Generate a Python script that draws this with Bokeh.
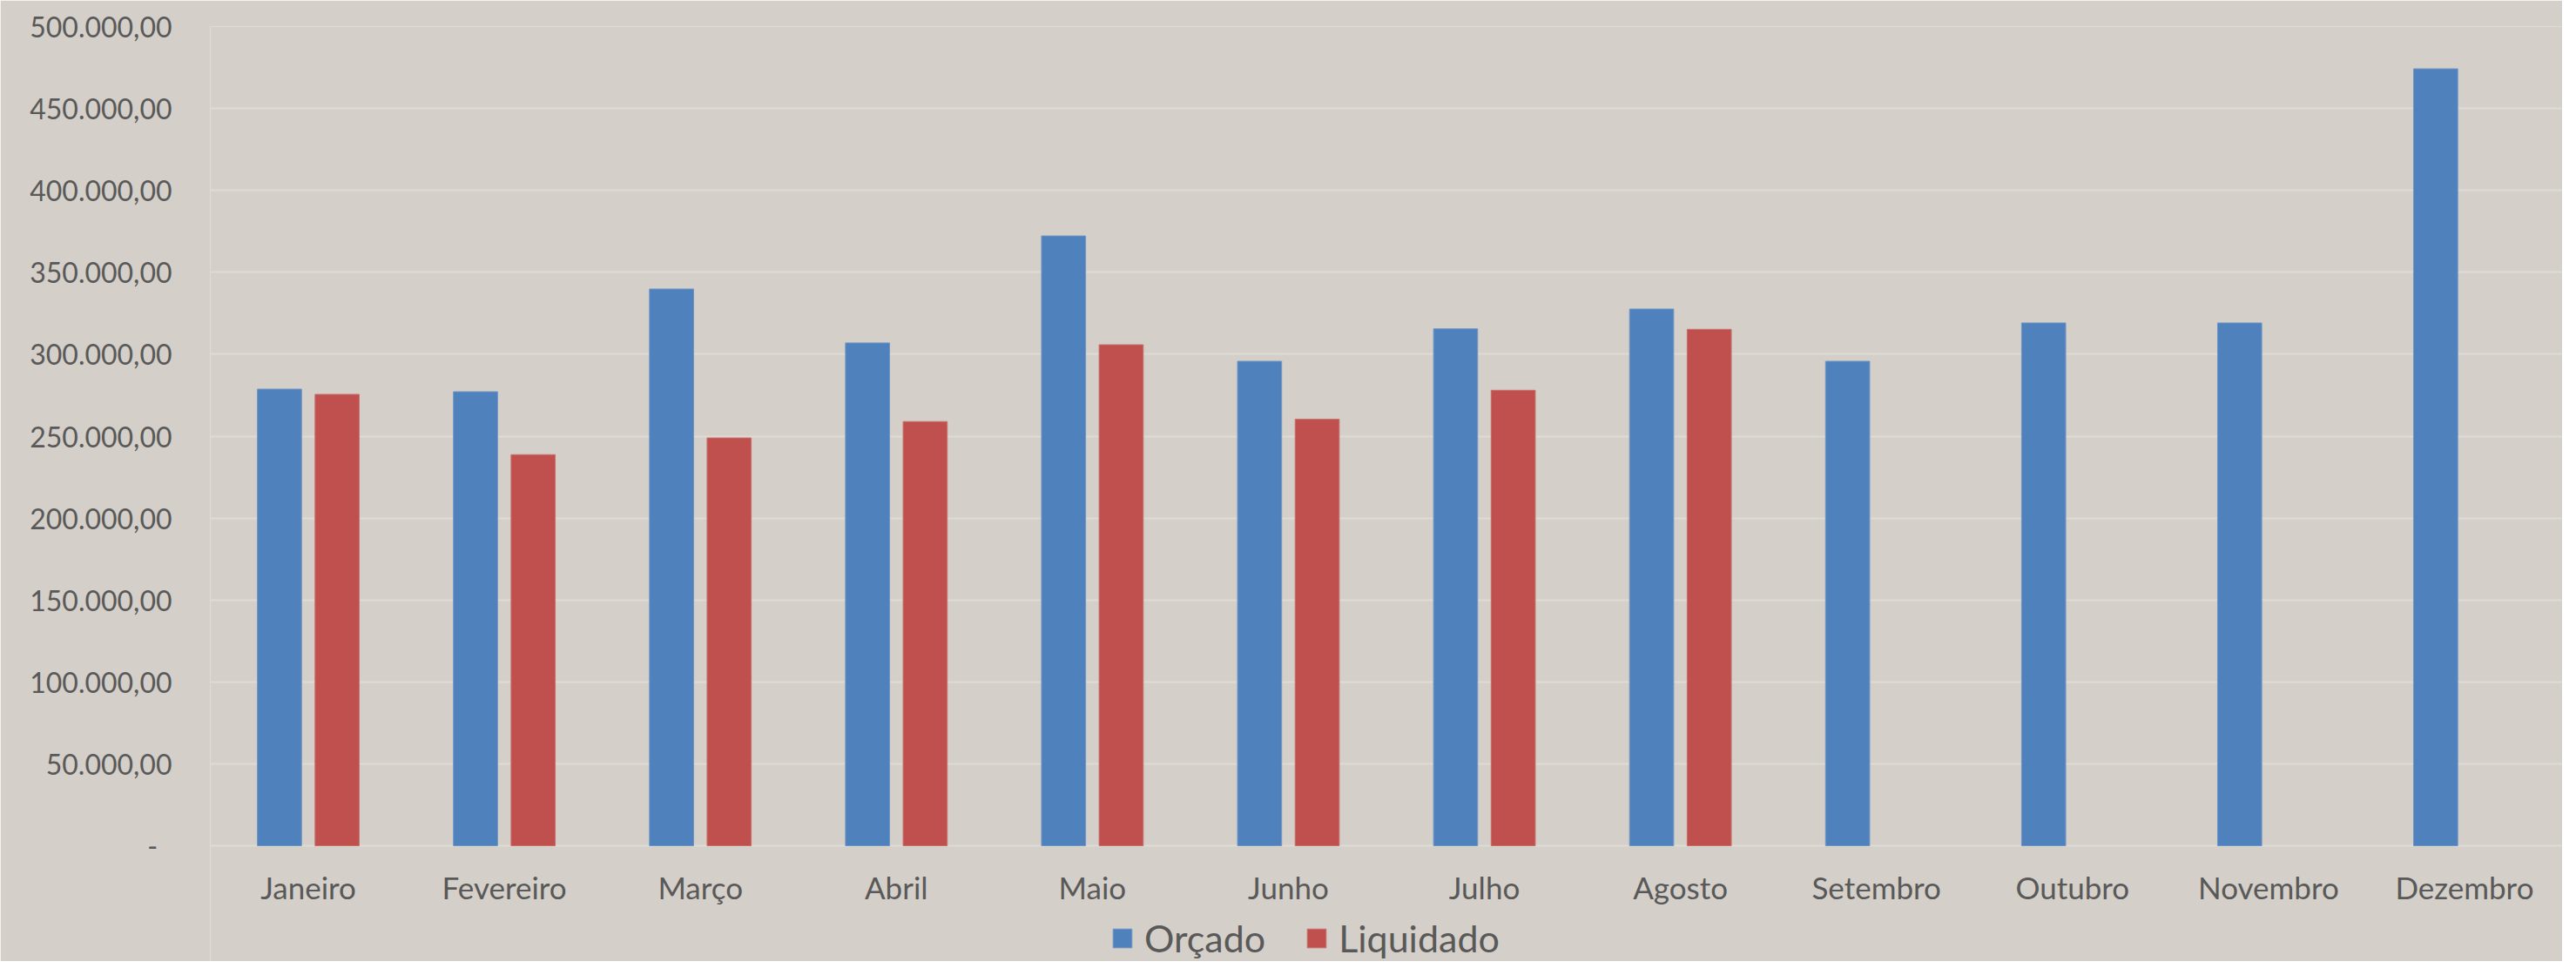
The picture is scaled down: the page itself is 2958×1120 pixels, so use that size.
from bokeh.plotting import figure
from bokeh.models import (FactorRange, Range1d, FixedTicker, CustomJSTickFormatter,
                          Legend, LegendItem)
from bokeh.transform import dodge
from bokeh.embed import file_html
from bokeh.resources import INLINE

meses = ["Janeiro", "Fevereiro", "Março", "Abril", "Maio", "Junho", "Julho",
         "Agosto", "Setembro", "Outubro", "Novembro", "Dezembro"]
orcado = [278700, 277100, 339800, 306900, 372200, 295700, 315500, 327600,
          295700, 319100, 319100, 474200]
liquidado = [275500, 238700, 248900, 258900, 305800, 260300, 278000, 315200]
y_ticks = [0, 50000, 100000, 150000, 200000, 250000, 300000, 350000, 400000,
           450000, 500000]

BG = "#D4CFC8"
TXT = "#595959"
FONT = "Lato"

W, H = 2942, 1104
TOP, LEFT, ZERO_Y = 30, 241, 971
y_min = -(H - ZERO_Y) / (ZERO_Y - TOP) * 500000

p = figure(x_range=FactorRange(*meses, range_padding=0),
           y_range=Range1d(y_min, 500000),
           width=W, height=H, output_backend="svg", toolbar_location=None,
           min_border_left=LEFT, min_border_right=0, min_border_top=TOP,
           min_border_bottom=0)
p.background_fill_color = BG
p.border_fill_color = BG
p.outline_line_color = None

b1 = p.vbar(x=dodge("m", -0.147, range=p.x_range), top="v", width=0.225,
            source=dict(m=meses, v=orcado),
            fill_color="#4F81BD", line_color="#6E95C6", line_width=1)
b2 = p.vbar(x=dodge("m", 0.147, range=p.x_range), top="v", width=0.225,
            source=dict(m=meses[:len(liquidado)], v=liquidado),
            fill_color="#C0504D", line_color="#C86F6C", line_width=1)

p.xgrid.grid_line_color = None
p.ygrid.grid_line_color = "#DEDBD6"
p.ygrid.grid_line_width = 2
p.ygrid.ticker = FixedTicker(ticks=y_ticks)
p.ygrid.level = "underlay"

ya = p.yaxis[0]
ya.ticker = FixedTicker(ticks=y_ticks)
ya.formatter = CustomJSTickFormatter(code="""
    if (tick == 0) { return "-\\u00a0\\u00a0"; }
    const s = Math.round(tick).toString();
    let out = "";
    for (let i = 0; i < s.length; i++) {
        if (i > 0 && (s.length - i) % 3 == 0) out += ".";
        out += s[i];
    }
    return out + ",00";
""")
xa = p.xaxis[0]
xa.fixed_location = 0
for ax in (xa, ya):
    ax.axis_line_color = None
    ax.major_tick_line_color = None
    ax.minor_tick_line_color = None
    ax.major_tick_out = 0
    ax.major_tick_in = 0
    ax.major_label_text_color = TXT
    ax.major_label_text_font = FONT
ya.major_label_text_font_size = "32px"
xa.major_label_text_font_size = "35px"
ya.major_label_standoff = 44
xa.major_label_standoff = 26

legend = Legend(items=[LegendItem(label="Orçado", renderers=[b1]),
                       LegendItem(label="Liquidado", renderers=[b2])],
                orientation="horizontal", location=(1034, 1),
                background_fill_alpha=0, border_line_color=None,
                padding=0, margin=0, spacing=45, label_standoff=12,
                glyph_width=27, glyph_height=27, label_height=27,
                label_text_font=FONT, label_text_font_size="43px",
                label_text_color=TXT)
p.add_layout(legend, "center")

open("out.html", "w").write(file_html(p, INLINE))
